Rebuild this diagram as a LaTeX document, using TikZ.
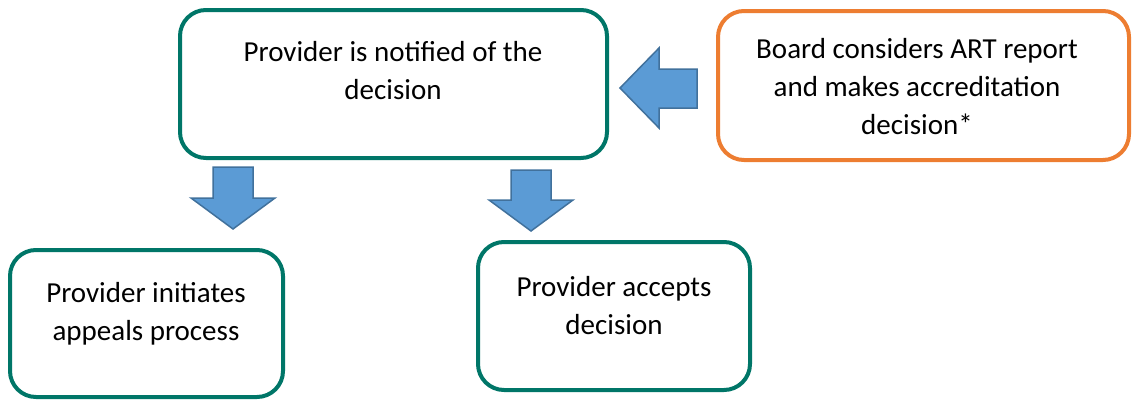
\documentclass[tikz,border=0pt]{standalone}
\usepackage{fontspec}
\setmainfont{Carlito}
\definecolor{boxgreen}{RGB}{0,118,104}
\definecolor{boxorange}{RGB}{237,125,49}
\definecolor{arrfill}{RGB}{91,155,213}
\definecolor{arredge}{RGB}{65,113,156}
\begin{document}
\begin{tikzpicture}[x=1pt,y=-1pt,
  box/.style={draw=boxgreen,line width=4pt,rounded corners=26pt,fill=white},
  obox/.style={box,draw=boxorange},
  txt/.style={align=center,font=\fontsize{29}{38}\selectfont,inner sep=0pt},
  bigarrow/.style={fill=arrfill,draw=arredge,line width=1.5pt,line join=miter}]
\useasboundingbox (0,0) rectangle (1134,399);
% boxes
\draw[box] (180,10) rectangle (607,158);
\draw[obox] (718,11) rectangle (1129,160);
\draw[box] (10,250) rectangle (283,397);
\draw[box] (478,242) rectangle (750,390);
% texts
\node[txt] (ttop) at (393,71) {Provider is notified of the\\decision};
\node[txt] (tboard) at (917,87) {Board considers ART report\\and makes accreditation\\decision*};
\node[txt] (tappeal) at (146,314) {Provider initiates\\appeals process};
\node[txt] (taccept) at (614,306) {Provider accepts\\decision};
% block arrows
\draw[bigarrow] (620,88) -- (659,48) -- (659,69) -- (697,69) -- (697,108) -- (659,108) -- (659,128) -- cycle;
\draw[bigarrow] (233,229) -- (191,198) -- (213,198) -- (213,167) -- (253,167) -- (253,198) -- (275,198) -- cycle;
\draw[bigarrow] (531,231) -- (489,200) -- (511,200) -- (511,170) -- (551,170) -- (551,200) -- (573,200) -- cycle;
\end{tikzpicture}
\end{document}
